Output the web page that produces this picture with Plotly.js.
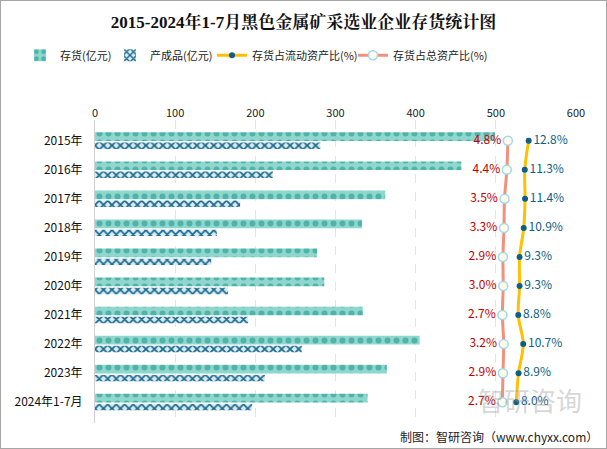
<!DOCTYPE html>
<html><head><meta charset="utf-8">
<script src="https://cdn.plot.ly/plotly-3.0.1.min.js"></script>
<style>body{margin:0;}#c{width:607px;height:449px;}#b{position:absolute;left:0;top:0;width:607px;height:449px;box-sizing:border-box;border:1px solid #a6a6a6;pointer-events:none;}</style>
</head><body><div id="c"></div><div id="b"></div>
<script>
const categories=['2015年','2016年','2017年','2018年','2019年','2020年','2021年','2022年','2023年','2024年1-7月'];
const inventory=[499,457,362,333,277,286,334,405,364,340];
const products=[281,222,181,152,145,166,191,258,212,196];
const currentRatio=[12.8,11.3,11.4,10.9,9.3,9.3,8.8,10.7,8.9,8.0];
const totalRatio=[4.8,4.4,3.5,3.3,2.9,3.0,2.7,3.2,2.9,2.7];
const font="'Noto Sans CJK SC', sans-serif";
const data=[
{type:'bar',orientation:'h',name:'存货(亿元)',legend:'legend',y:categories,x:inventory,width:0.3,offset:-0.29,
 marker:{color:'#7fd0c6',pattern:{shape:'.',fgcolor:'#4fb3a8',bgcolor:'#8fd7ce',size:9,solidity:0.35}},hoverinfo:'x'},
{type:'bar',orientation:'h',name:'产成品(亿元)',legend:'legend2',y:categories,x:products,width:0.22,offset:0.06,
 marker:{color:'#2f7fa3',pattern:{shape:'x',fgcolor:'#1b6b8f',bgcolor:'#dcecf3',size:6,solidity:0.5}},hoverinfo:'x'},
{type:'scatter',mode:'lines+markers+text',name:'存货占流动资产比(%)',legend:'legend3',y:categories,x:currentRatio,xaxis:'x2',
 line:{color:'#FFC000',width:3,shape:'spline'},marker:{color:'#0c5f86',size:6},
 text:currentRatio.map(v=>v.toFixed(1)+'%'),textposition:'middle right',textfont:{color:'#0c5f86',size:12,family:font}},
{type:'scatter',mode:'lines+markers+text',name:'存货占总资产比(%)',legend:'legend4',y:categories,x:totalRatio,xaxis:'x2',
 line:{color:'#F2917B',width:3,shape:'spline'},marker:{color:'#fffbe8',size:9,line:{color:'#9fd8ee',width:1.5}},
 text:totalRatio.map(v=>v.toFixed(1)+'%'),textposition:'middle left',textfont:{color:'#c00000',size:12,family:font}}
];
function lg(xpx){return {orientation:'h',xref:'container',yref:'container',x:xpx/607,xanchor:'left',y:0.877,yanchor:'middle',font:{size:11,color:'#222'},itemwidth:30,bgcolor:'rgba(0,0,0,0)'};}
const layout={
 width:607,height:449,margin:{l:95,r:31,t:120,b:26},paper_bgcolor:'#fff',plot_bgcolor:'#fff',
 font:{family:font,color:'#222'},
 title:{text:'<b>2015-2024年1-7月黑色金属矿采选业企业存货统计图</b>',x:0.5,y:0.951,xanchor:'center',yanchor:'middle',font:{size:17,family:"'Liberation Serif','Noto Serif CJK SC','Noto Sans CJK SC',serif",color:'#111'}},
 showlegend:true,
 legend:lg(20),legend2:lg(110),legend3:lg(212),legend4:lg(353),
 xaxis:{side:'top',range:[0,600],dtick:100,showgrid:true,gridcolor:'#e4e4e4',griddash:'dash',zeroline:false,showline:false,ticks:'',tickfont:{size:11,color:'#222'},fixedrange:true},
 xaxis2:{overlaying:'x',range:[-154,31],visible:false,showgrid:false},
 yaxis:{type:'category',autorange:'reversed',showline:true,linecolor:'#d0d0d0',linewidth:1,ticks:'',ticklabelstandoff:9,tickfont:{size:12,color:'#111'},showgrid:false},
 bargap:0.2,
 annotations:[
 {text:'智研咨询',xref:'paper',yref:'paper',x:0.905,y:0.076,xanchor:'center',yanchor:'middle',showarrow:false,font:{size:26,color:'rgba(150,150,150,0.4)'}},
 {text:'制图：智研咨询（www.chyxx.com）',xref:'paper',yref:'paper',x:1.05,y:-0.043,xanchor:'right',yanchor:'middle',showarrow:false,font:{size:12,color:'#222'}}
 ]
};
Plotly.newPlot('c',data,layout,{displayModeBar:false,staticPlot:true});
</script></body></html>
